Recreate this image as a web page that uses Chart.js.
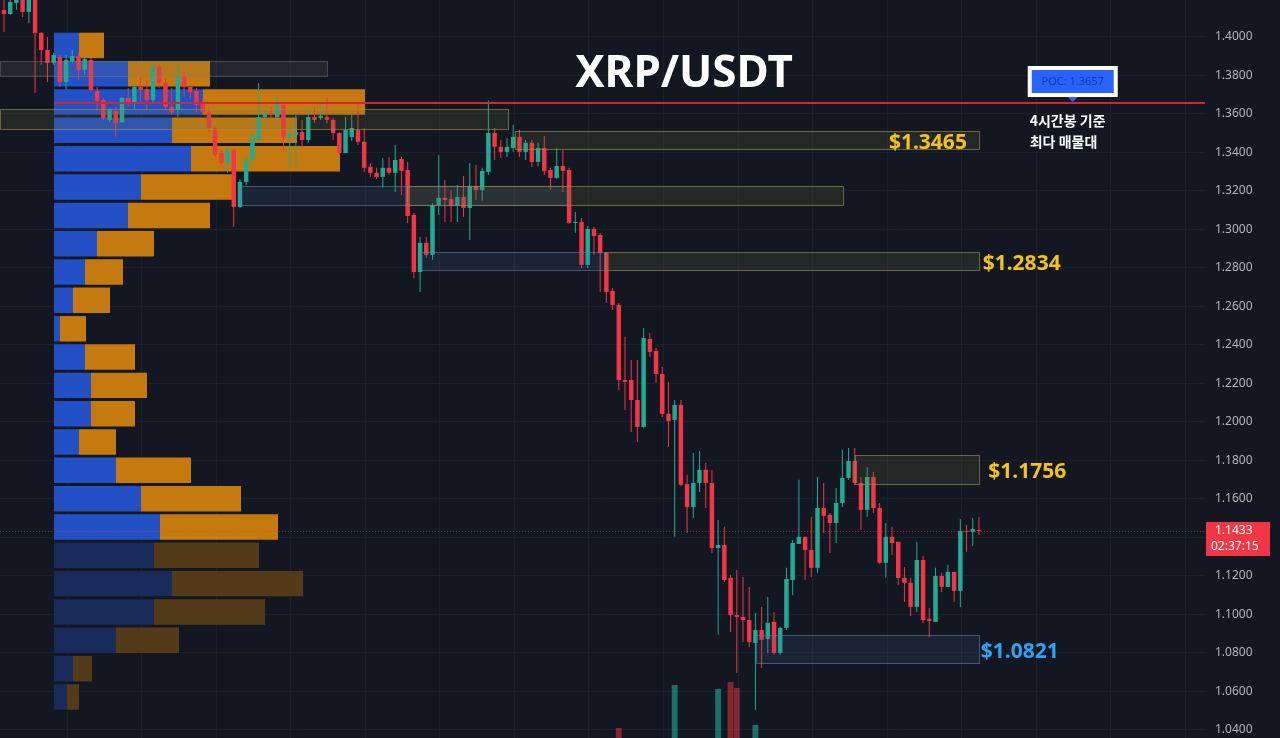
<!DOCTYPE html>
<html>
<head>
<meta charset="utf-8">
<title>XRP/USDT</title>
<script src="https://cdn.jsdelivr.net/npm/chart.js@4.4.1/dist/chart.umd.min.js"></script>
<style>
  html, body { margin: 0; padding: 0; background: #131722; overflow: hidden; }
  #wrap { position: relative; width: 1280px; height: 738px; }
</style>
</head>
<body>
<div id="wrap"><canvas id="chart" width="1280" height="738"></canvas></div>
<script>
// 4h candles
const opens = [
  1.4140, 1.4119, 1.4177, 1.4192, 1.4130, 1.4195, 1.4021, 1.3932, 1.3865, 1.3896,
  1.3766, 1.3875, 1.3901, 1.3829, 1.3881, 1.3719, 1.3673, 1.3569, 1.3616, 1.3558,
  1.3683, 1.3657, 1.3740, 1.3730, 1.3673, 1.3844, 1.3761, 1.3636, 1.3621, 1.3797,
  1.3740, 1.3719, 1.3657, 1.3610, 1.3527, 1.3397, 1.3345, 1.3413, 1.3117, 1.3247,
  1.3361, 1.3465, 1.3584, 1.3605, 1.3584, 1.3647, 1.3481, 1.3490, 1.3506, 1.3465,
  1.3584, 1.3579, 1.3584, 1.3569, 1.3501, 1.3397, 1.3480, 1.3517, 1.3455, 1.3325,
  1.3294, 1.3273, 1.3320, 1.3294, 1.3366, 1.3309, 1.3075, 1.2779, 1.2930, 1.2868,
  1.3127, 1.3164, 1.3158, 1.3122, 1.3169, 1.3112, 1.3226, 1.3205, 1.3299, 1.3501,
  1.3429, 1.3403, 1.3423, 1.3481, 1.3403, 1.3450, 1.3351, 1.3423, 1.3309, 1.3268,
  1.3330, 1.3309, 1.3034, 1.3039, 1.2816, 1.3003, 1.2971, 1.2878, 1.2681, 1.2608,
  1.2218, 1.2218, 1.2114, 1.1974, 1.2431, 1.2369, 1.2249, 1.2042, 1.2010, 1.2088,
  1.1678, 1.1558, 1.1683, 1.1751, 1.1683, 1.1345, 1.1361, 1.1190, 1.0997, 1.0987,
  1.0971, 1.0852, 1.0919, 1.0873, 1.0961, 1.0800, 1.0930, 1.1179, 1.1366, 1.1403,
  1.1335, 1.1242, 1.1553, 1.1517, 1.1475, 1.1579, 1.1709, 1.1797, 1.1683, 1.1543,
  1.1714, 1.1553, 1.1268, 1.1403, 1.1377, 1.1190, 1.1164, 1.1039, 1.1283, 1.0977,
  1.0961, 1.1200, 1.1143, 1.1221, 1.1122, 1.1434, 1.1429, 1.1439
];
const highs = [
  1.4210, 1.4210, 1.4210, 1.4210, 1.4210, 1.4210, 1.4026, 1.4000, 1.3917, 1.3906,
  1.3906, 1.3932, 1.3917, 1.3896, 1.3891, 1.3740, 1.3683, 1.3631, 1.3636, 1.3688,
  1.3735, 1.3761, 1.3792, 1.3777, 1.3865, 1.3855, 1.3787, 1.3735, 1.3860, 1.3818,
  1.3751, 1.3735, 1.3683, 1.3631, 1.3532, 1.3413, 1.3423, 1.3423, 1.3260, 1.3377,
  1.3501, 1.3761, 1.3621, 1.3636, 1.3699, 1.3662, 1.3532, 1.3595, 1.3569, 1.3621,
  1.3636, 1.3652, 1.3683, 1.3579, 1.3506, 1.3584, 1.3595, 1.3657, 1.3527, 1.3345,
  1.3320, 1.3371, 1.3377, 1.3439, 1.3377, 1.3351, 1.3086, 1.2961, 1.2961, 1.3138,
  1.3387, 1.3257, 1.3205, 1.3231, 1.3278, 1.3345, 1.3335, 1.3320, 1.3670, 1.3527,
  1.3465, 1.3475, 1.3543, 1.3517, 1.3465, 1.3465, 1.3450, 1.3486, 1.3320, 1.3423,
  1.3413, 1.3320, 1.3091, 1.3060, 1.3018, 1.3013, 1.2982, 1.2883, 1.2696, 1.2618,
  1.2442, 1.2322, 1.2322, 1.2488, 1.2462, 1.2384, 1.2286, 1.2208, 1.2114, 1.2114,
  1.1725, 1.1839, 1.1849, 1.1787, 1.1751, 1.1491, 1.1455, 1.1205, 1.1231, 1.1195,
  1.1143, 1.1008, 1.1039, 1.1091, 1.1013, 1.0935, 1.1242, 1.1387, 1.1699, 1.1403,
  1.1506, 1.1714, 1.1683, 1.1527, 1.1657, 1.1855, 1.1865, 1.1865, 1.1714, 1.1766,
  1.1740, 1.1579, 1.1475, 1.1455, 1.1377, 1.1247, 1.1190, 1.1377, 1.1304, 1.1034,
  1.1242, 1.1216, 1.1257, 1.1221, 1.1496, 1.1465, 1.1501, 1.1506
];
const lows = [
  1.4026, 1.4114, 1.4140, 1.4104, 1.4073, 1.3709, 1.3855, 1.3766, 1.3855, 1.3740,
  1.3725, 1.3865, 1.3777, 1.3803, 1.3714, 1.3621, 1.3569, 1.3558, 1.3481, 1.3553,
  1.3636, 1.3621, 1.3657, 1.3621, 1.3662, 1.3735, 1.3621, 1.3595, 1.3584, 1.3688,
  1.3683, 1.3610, 1.3595, 1.3506, 1.3377, 1.3335, 1.3293, 1.3013, 1.3110, 1.3230,
  1.3356, 1.3460, 1.3569, 1.3579, 1.3579, 1.3403, 1.3325, 1.3325, 1.3429, 1.3450,
  1.3553, 1.3569, 1.3550, 1.3465, 1.3387, 1.3397, 1.3460, 1.3439, 1.3299, 1.3273,
  1.3262, 1.3216, 1.3283, 1.3195, 1.3179, 1.3034, 1.2748, 1.2675, 1.2852, 1.2842,
  1.3075, 1.3039, 1.3039, 1.3039, 1.3065, 1.2945, 1.3153, 1.3150, 1.3283, 1.3361,
  1.3371, 1.3377, 1.3403, 1.3377, 1.3361, 1.3325, 1.3330, 1.3283, 1.3205, 1.3262,
  1.3195, 1.3030, 1.2982, 1.2800, 1.2800, 1.2868, 1.2675, 1.2618, 1.2582, 1.2166,
  1.2062, 1.1948, 1.1896, 1.1968, 1.2338, 1.2203, 1.2026, 1.1870, 1.1403, 1.1668,
  1.1423, 1.1501, 1.1636, 1.1553, 1.1319, 1.0894, 1.1169, 1.0909, 1.0696, 1.0857,
  1.0831, 1.0504, 1.0722, 1.0800, 1.0790, 1.0790, 1.0919, 1.1101, 1.1366, 1.1179,
  1.1195, 1.1216, 1.1423, 1.1319, 1.1371, 1.1558, 1.1699, 1.1673, 1.1439, 1.1506,
  1.1527, 1.1262, 1.1190, 1.1309, 1.1153, 1.1065, 1.0992, 1.1013, 1.0956, 1.0883,
  1.0961, 1.1117, 1.1143, 1.1065, 1.1039, 1.1325, 1.1356, 1.1413
];
const closes = [
  1.4119, 1.4182, 1.4195, 1.4130, 1.4195, 1.4021, 1.3932, 1.3865, 1.3906, 1.3766,
  1.3881, 1.3901, 1.3829, 1.3886, 1.3725, 1.3668, 1.3579, 1.3621, 1.3553, 1.3683,
  1.3652, 1.3740, 1.3725, 1.3673, 1.3844, 1.3761, 1.3636, 1.3610, 1.3797, 1.3740,
  1.3714, 1.3647, 1.3610, 1.3527, 1.3387, 1.3345, 1.3413, 1.3117, 1.3247, 1.3361,
  1.3481, 1.3584, 1.3605, 1.3595, 1.3647, 1.3481, 1.3501, 1.3506, 1.3465, 1.3584,
  1.3569, 1.3590, 1.3569, 1.3501, 1.3397, 1.3517, 1.3527, 1.3455, 1.3320, 1.3294,
  1.3273, 1.3320, 1.3294, 1.3361, 1.3304, 1.3070, 1.2779, 1.2930, 1.2868, 1.3127,
  1.3164, 1.3153, 1.3122, 1.3169, 1.3112, 1.3226, 1.3205, 1.3304, 1.3501, 1.3429,
  1.3403, 1.3429, 1.3481, 1.3403, 1.3450, 1.3351, 1.3423, 1.3304, 1.3268, 1.3330,
  1.3304, 1.3034, 1.3039, 1.2816, 1.3003, 1.2966, 1.2878, 1.2675, 1.2608, 1.2218,
  1.2208, 1.2114, 1.1974, 1.2436, 1.2364, 1.2249, 1.2042, 1.2005, 1.2088, 1.1673,
  1.1558, 1.1683, 1.1751, 1.1683, 1.1345, 1.1361, 1.1179, 1.0997, 1.0987, 1.0971,
  1.0857, 1.0919, 1.0868, 1.0956, 1.0800, 1.0930, 1.1184, 1.1371, 1.1403, 1.1335,
  1.1242, 1.1553, 1.1512, 1.1475, 1.1579, 1.1709, 1.1797, 1.1683, 1.1543, 1.1714,
  1.1553, 1.1268, 1.1403, 1.1371, 1.1190, 1.1164, 1.1039, 1.1283, 1.0971, 1.0966,
  1.1200, 1.1143, 1.1221, 1.1122, 1.1434, 1.1429, 1.1444, 1.1433
];

// only the tallest volume bars reach into the picture
const volumeIndex = [99, 108, 115, 117, 118, 121];
const volumeValues = [11.0, 15.3, 14.9, 15.6, 15.0, 11.3];

// volume profile rows
const profileLevels = [
  1.3956, 1.3809, 1.3662, 1.3515, 1.3367, 1.3220, 1.3073, 1.2926, 1.2779, 1.2632,
  1.2484, 1.2337, 1.2190, 1.2043, 1.1896, 1.1749, 1.1601, 1.1454, 1.1307, 1.1160,
  1.1013, 1.0866, 1.0718, 1.0571
];
const profileBuy = [25, 74, 149, 118, 137, 87, 74, 43, 31, 19, 6, 31, 37, 37, 25, 62, 87, 106, 100, 118, 100, 62, 19, 13];
const profileSell = [25, 82, 162, 125, 149, 91, 82, 57, 38, 37, 26, 50, 56, 44, 37, 75, 100, 118, 105, 131, 111, 63, 19, 12];
const valueAreaLow = 1.138;

// drawn zones (x in candle index units)
const zoneStart = [-0.7, -0.7, 82.3, 38.0, 64.9, 67.0, 96.8, 137.0, 121.1];
const zoneEnd = [52.0, 81.2, 157.0, 90.7, 135.1, 96.8, 157.0, 157.0, 157.0];
const zoneTop = [1.3875, 1.3626, 1.3512, 1.3226, 1.3226, 1.2883, 1.2883, 1.1829, 1.0894];
const zoneBottom = [1.3797, 1.3522, 1.3418, 1.3127, 1.3127, 1.2790, 1.2790, 1.1678, 1.0748];
const zoneKind = ['grey', 'yellow', 'yellow', 'blue', 'yellow', 'blue', 'yellow', 'yellow', 'blue'];

const levelTexts = ['$1.3465', '$1.2834', '$1.1756', '$1.0821'];
const levelPrices = [1.3465, 1.2834, 1.1756, 1.0821];
const levelAt = [142.5, 157.6, 158.5, 157.3];
const levelKind = ['yellow', 'yellow', 'yellow', 'blue'];

const pocPrice = 1.3657;
const pocAt = 172.1;
const pocNote = ['4시간봉 기준', '최다 매물대'];
const lastPrice = 1.1433;
const countdown = '02:37:15';
const gridEvery = 12;
const gridFirst = 10.2;

const UP = '#22ab94';
const DOWN = '#f23645';
const GRID = '#1c202b';
const ZONE_FILL = { grey: 'rgba(120,120,110,0.16)', yellow: 'rgba(120,118,60,0.17)', blue: 'rgba(70,100,150,0.17)' };
const ZONE_LINE = { grey: 'rgba(130,130,110,0.45)', yellow: 'rgba(150,145,80,0.65)', blue: 'rgba(95,125,170,0.6)' };
const LEVEL_COLOR = { yellow: '#f5c21b', blue: '#2ea3f2' };

const candleColors = closes.map((c, i) => c >= opens[i] ? UP : DOWN);
const volumeColors = volumeIndex.map(i => closes[i] >= opens[i] ? 'rgba(34,171,148,0.6)' : 'rgba(242,54,69,0.5)');

const overlay = {
  id: 'overlay',
  afterDatasetsDraw(chart) {
    const { ctx, chartArea, scales } = chart;
    const x = scales.x, y = scales.y;
    ctx.save();

    // zones
    zoneStart.forEach((s, i) => {
      const x0 = Math.round(x.getPixelForValue(s)) + 0.5;
      const x1 = Math.round(x.getPixelForValue(zoneEnd[i])) + 0.5;
      const y0 = Math.round(y.getPixelForValue(zoneTop[i])) + 0.5;
      const y1 = Math.round(y.getPixelForValue(zoneBottom[i])) + 0.5;
      ctx.fillStyle = ZONE_FILL[zoneKind[i]];
      ctx.fillRect(x0, y0, x1 - x0, y1 - y0);
      ctx.strokeStyle = ZONE_LINE[zoneKind[i]];
      ctx.lineWidth = 1;
      ctx.strokeRect(x0, y0, x1 - x0, y1 - y0);
    });

    // last price dotted line
    const yl = Math.round(y.getPixelForValue(lastPrice)) + 0.5;
    ctx.strokeStyle = 'rgba(242,54,69,0.55)';
    ctx.setLineDash([1, 2]);
    ctx.beginPath();
    ctx.moveTo(chartArea.left, yl);
    ctx.lineTo(chartArea.right, yl);
    ctx.stroke();
    ctx.setLineDash([]);

    // POC line
    const yp = Math.round(y.getPixelForValue(pocPrice));
    ctx.strokeStyle = '#e0202a';
    ctx.lineWidth = 2;
    ctx.beginPath();
    ctx.moveTo(scales.xp.getPixelForValue(0), yp);
    ctx.lineTo(chartArea.right, yp);
    ctx.stroke();

    // POC label
    const px = x.getPixelForValue(pocAt);
    ctx.fillStyle = '#ffffff';
    ctx.fillRect(px - 45, yp - 37, 90, 31);
    ctx.fillStyle = '#2962ff';
    ctx.fillRect(px - 41, yp - 33, 82, 23);
    ctx.beginPath();
    ctx.moveTo(px - 5, yp - 6);
    ctx.lineTo(px + 5, yp - 6);
    ctx.lineTo(px, yp - 1);
    ctx.closePath();
    ctx.fill();
    ctx.fillStyle = 'rgba(25,45,120,0.8)';
    ctx.font = '11px "Noto Sans"';
    ctx.textAlign = 'center';
    ctx.textBaseline = 'middle';
    ctx.fillText('POC: ' + pocPrice.toFixed(4), px, yp - 21);

    ctx.fillStyle = '#ffffff';
    ctx.font = 'bold 14px "Noto Sans CJK KR"';
    ctx.textAlign = 'left';
    pocNote.forEach((t, i) => ctx.fillText(t, px - 43, yp + 18 + i * 21));

    // level labels
    ctx.font = 'bold 21px "Noto Sans"';
    levelTexts.forEach((t, i) => {
      ctx.fillStyle = LEVEL_COLOR[levelKind[i]];
      ctx.fillText(t, x.getPixelForValue(levelAt[i]), y.getPixelForValue(levelPrices[i]) + 3);
    });

    // title
    ctx.fillStyle = '#ffffff';
    ctx.font = 'bold 44px "Noto Sans"';
    ctx.textAlign = 'center';
    ctx.textBaseline = 'alphabetic';
    ctx.fillText('XRP/USDT', 684, 87);
    ctx.restore();
  },
  afterDraw(chart) {
    const { ctx, chartArea, scales } = chart;
    const yl = scales.y.getPixelForValue(lastPrice);
    ctx.save();
    ctx.fillStyle = DOWN;
    ctx.fillRect(chartArea.right + 1, Math.round(yl) - 9, 64, 34);
    ctx.fillStyle = '#ffffff';
    ctx.font = '12px "Noto Sans"';
    ctx.textAlign = 'left';
    ctx.textBaseline = 'middle';
    ctx.fillText(lastPrice.toFixed(4), chartArea.right + 10, yl);
    ctx.fillText(countdown, chartArea.right + 6, yl + 16);
    ctx.restore();
  }
};

new Chart(document.getElementById('chart'), {
  type: 'bar',
  data: {
    datasets: [
      {
        label: 'body',
        data: opens.map((o, i) => ({ x: i, y: [o, closes[i]] })),
        backgroundColor: candleColors,
        grouped: false,
        barPercentage: 0.8,
        categoryPercentage: 0.9,
        minBarLength: 1,
        xAxisID: 'x',
        yAxisID: 'y',
        order: 0
      },
      {
        label: 'wick',
        data: lows.map((l, i) => ({ x: i, y: [l, highs[i]] })),
        backgroundColor: candleColors,
        grouped: false,
        maxBarThickness: 1,
        inflateAmount: 0,
        xAxisID: 'x',
        yAxisID: 'y',
        order: 1
      },
      {
        label: 'volume',
        data: volumeIndex.map((v, k) => ({ x: v, y: volumeValues[k] })),
        backgroundColor: volumeColors,
        grouped: false,
        barPercentage: 1,
        categoryPercentage: 0.95,
        xAxisID: 'x',
        yAxisID: 'yv',
        order: 2
      },
      {
        label: 'profile buy',
        indexAxis: 'y',
        data: profileLevels.map((p, i) => ({ x: [0, profileBuy[i]], y: p })),
        backgroundColor: profileLevels.map(p => p >= valueAreaLow ? '#2450c6' : '#192b5a'),
        grouped: false,
        barPercentage: 1,
        categoryPercentage: 0.9,
        xAxisID: 'xp',
        yAxisID: 'yp',
        order: 3
      },
      {
        label: 'profile sell',
        indexAxis: 'y',
        data: profileLevels.map((p, i) => ({ x: [profileBuy[i], profileBuy[i] + profileSell[i]], y: p })),
        backgroundColor: profileLevels.map(p => p >= valueAreaLow ? '#c47a0e' : '#533b1a'),
        grouped: false,
        barPercentage: 1,
        categoryPercentage: 0.9,
        xAxisID: 'xp',
        yAxisID: 'yp',
        order: 3
      }
    ]
  },
  options: {
    responsive: false,
    animation: false,
    events: [],
    layout: { padding: 0 },
    plugins: { legend: { display: false }, tooltip: { enabled: false } },
    scales: {
      x: {
        type: 'linear', axis: 'x', position: 'bottom',
        min: -0.644, max: 193.4, offset: false,
        grid: { color: GRID, offset: false, drawTicks: false },
        border: { display: false },
        ticks: { display: false },
        afterBuildTicks: s => {
          const t = [];
          for (let v = gridFirst; v < s.max; v += gridEvery) t.push({ value: v });
          s.ticks = t;
        },
        afterFit: s => { s.height = 0; }
      },
      y: {
        type: 'linear', axis: 'y', position: 'right',
        min: 1.0358, max: 1.4192, offset: false,
        grid: { color: GRID, drawTicks: false },
        border: { display: false },
        ticks: {
          stepSize: 0.02, includeBounds: false, padding: 10,
          color: '#b2b5be', font: { family: 'Noto Sans', size: 12 },
          callback: v => v.toFixed(4)
        },
        afterFit: s => { s.width = 75; s.paddingTop = 0; s.paddingBottom = 0; }
      },
      yv: { type: 'linear', axis: 'y', position: 'left', display: false, offset: false, min: 10, max: 83.8 },
      xp: { type: 'linear', axis: 'x', position: 'bottom', display: false, offset: false, min: -54, max: 1151 },
      yp: { type: 'linear', axis: 'y', position: 'left', display: false, offset: false, min: 1.0358, max: 1.4192, ticks: { stepSize: 1 } }
    }
  },
  plugins: [overlay]
});
</script>
</body>
</html>
